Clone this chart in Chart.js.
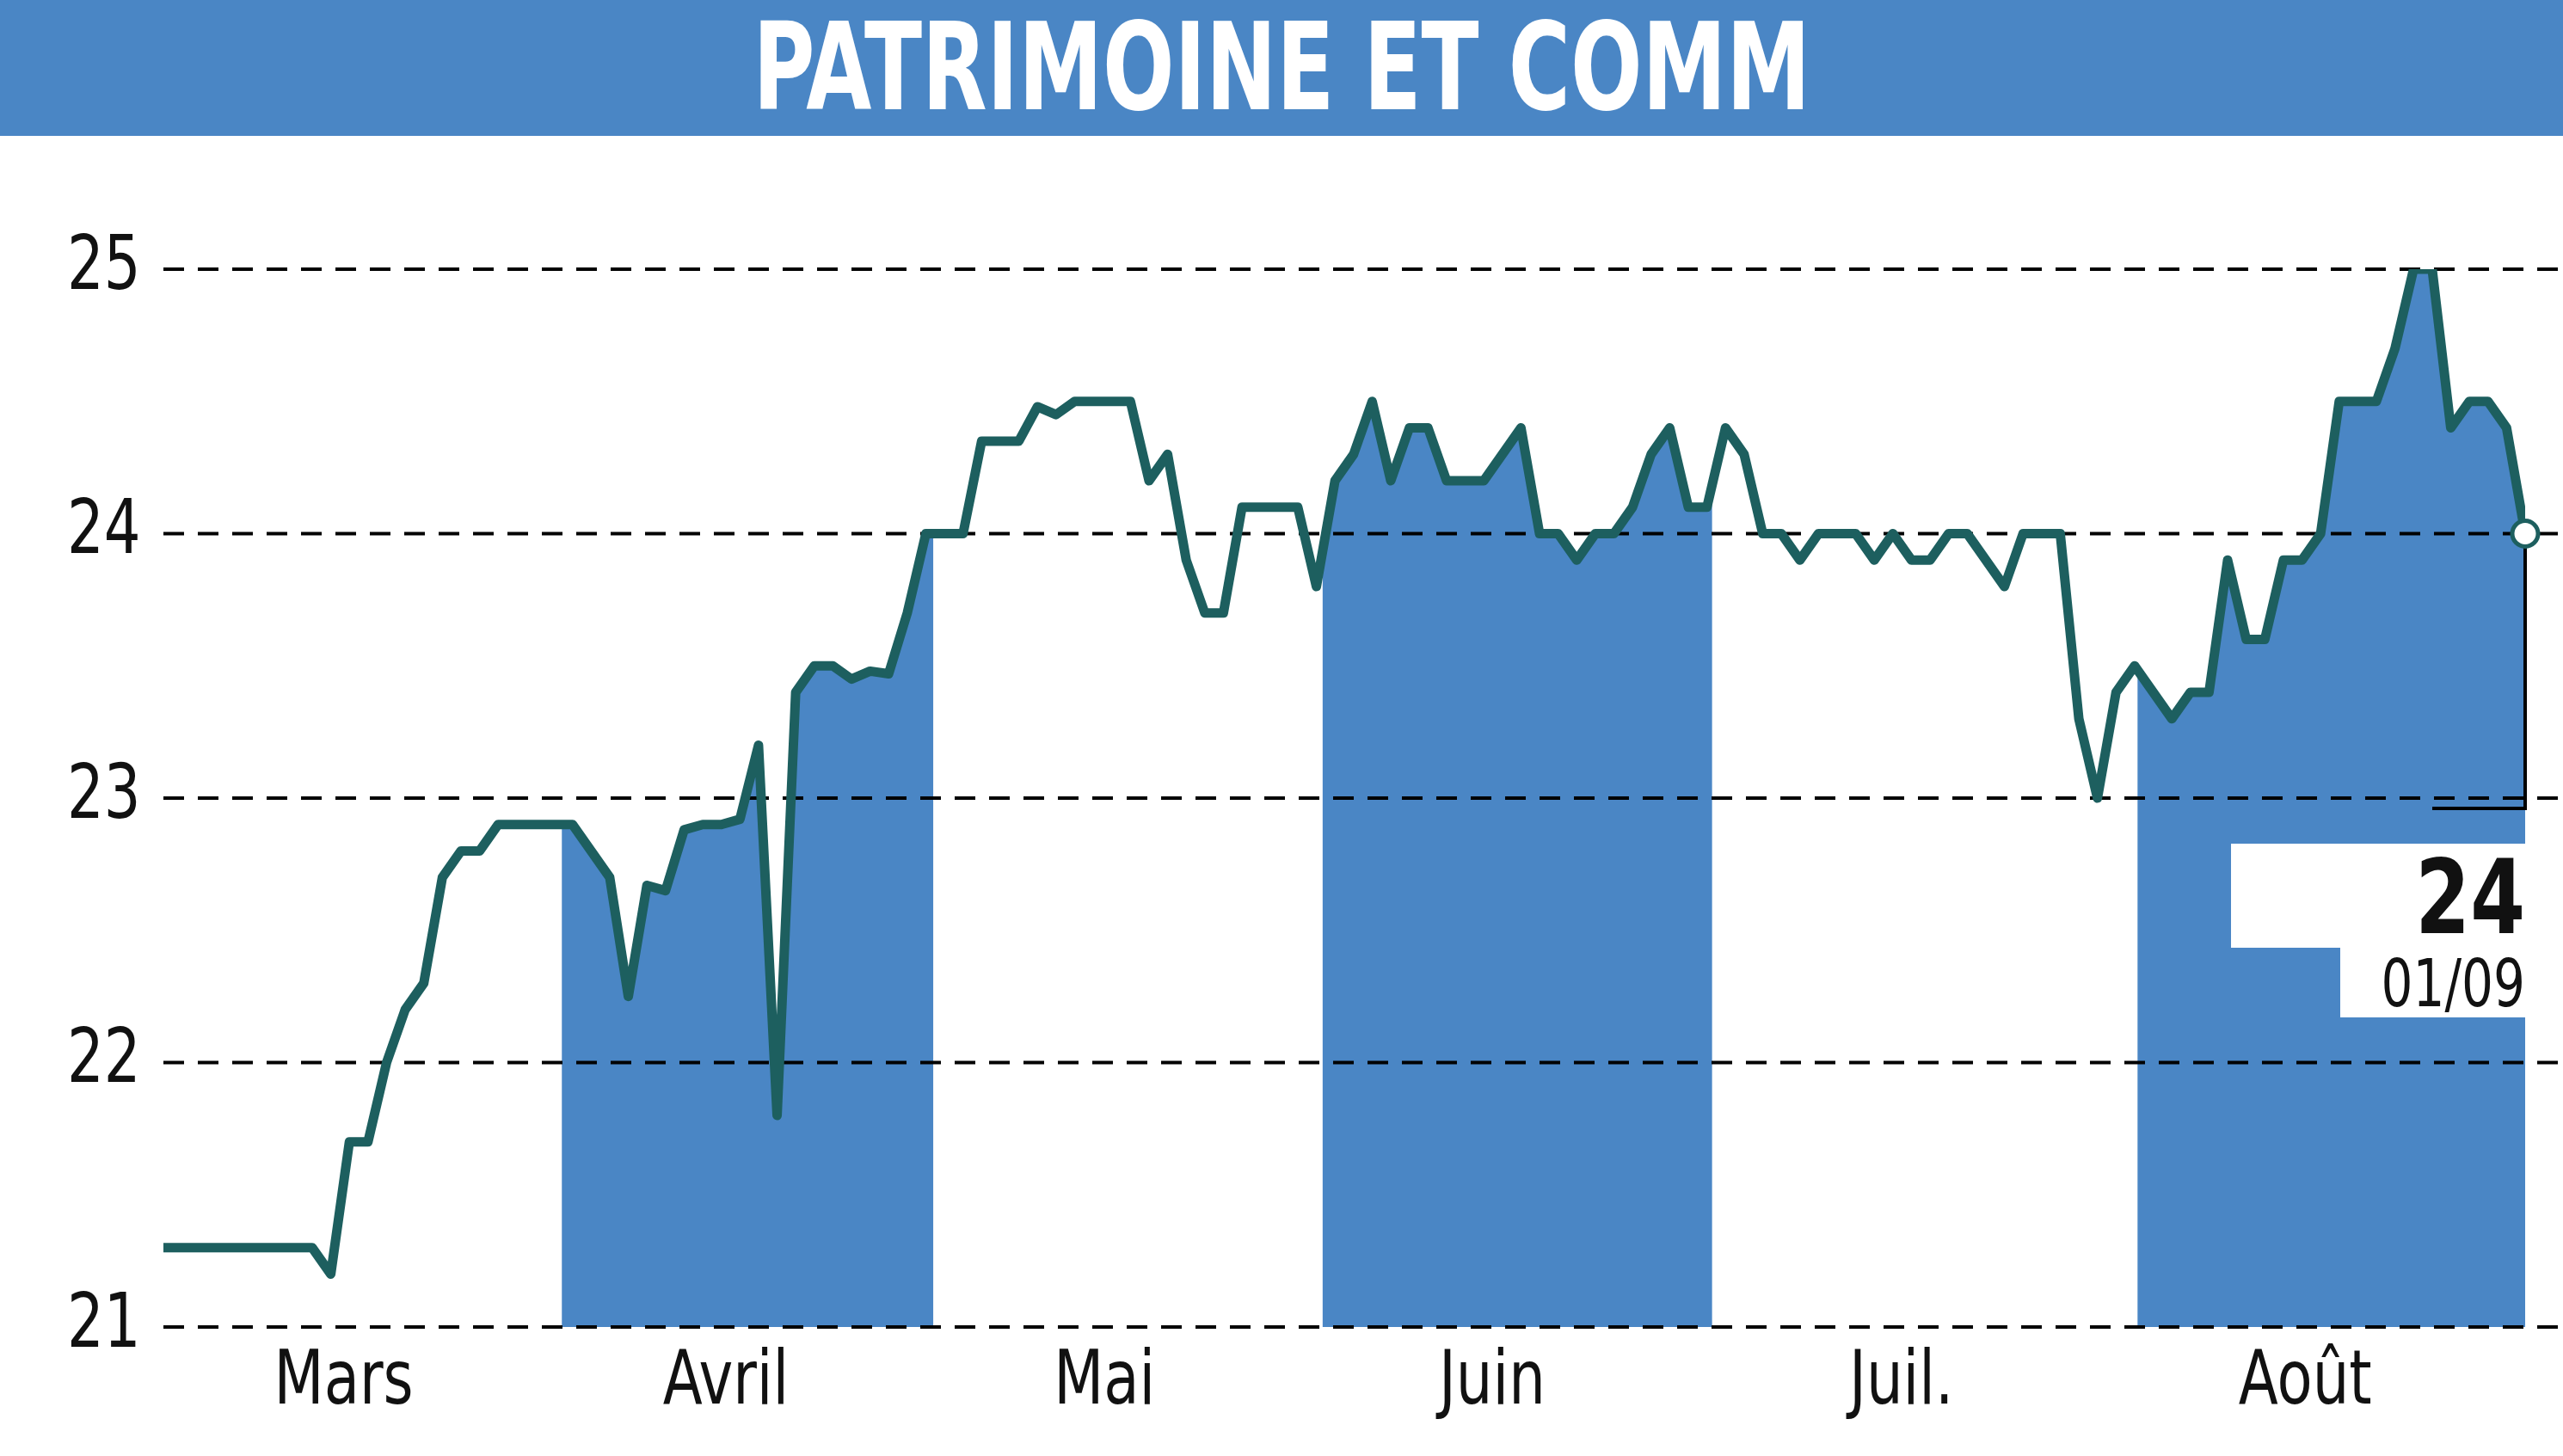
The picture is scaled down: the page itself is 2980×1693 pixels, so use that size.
<!DOCTYPE html>
<html>
<head>
<meta charset="utf-8">
<script src="https://cdn.jsdelivr.net/npm/chart.js@4/dist/chart.umd.min.js"></script>
<style>
  html, body { margin: 0; padding: 0; background: #fff; }
  #wrap { position: relative; width: 2980px; height: 1693px; }
  #title {
    position: absolute; left: 0; top: 0; width: 2980px; height: 158px;
    background: #4a86c5; color: #fff; text-align: center;
    font: bold 140px "DejaVu Sans Condensed", "Liberation Sans Narrow", sans-serif;
    line-height: 158px;
  }
  #title span { display: inline-block; transform: scaleX(0.78); }
  canvas { position: absolute; left: 0; top: 0; }
</style>
</head>
<body>
<div id="wrap">
  <canvas id="chart" width="2980" height="1693"></canvas>
  <div id="title"><span>PATRIMOINE ET COMM</span></div>
</div>
<script>
const prices = [
  21.3, 21.3, 21.3, 21.3, 21.3, 21.3, 21.3, 21.3, 21.3,
  21.2, 21.7, 21.7, 22.0, 22.2, 22.3, 22.7, 22.8, 22.8, 22.9,
  22.9, 22.9, 22.9, 22.9, 22.8, 22.7, 22.25, 22.67, 22.65, 22.88,
  22.9, 22.9, 22.92, 23.2, 21.8, 23.4, 23.5, 23.5, 23.45, 23.48,
  23.47, 23.7, 24.0, 24.0, 24.0, 24.35, 24.35, 24.35, 24.48, 24.45,
  24.5, 24.5, 24.5, 24.5, 24.2, 24.3, 23.9, 23.7, 23.7, 24.1,
  24.1, 24.1, 24.1, 23.8, 24.2, 24.3, 24.5, 24.2, 24.4, 24.4,
  24.2, 24.2, 24.2, 24.3, 24.4, 24.0, 24.0, 23.9, 24.0, 24.0,
  24.1, 24.3, 24.4, 24.1, 24.1, 24.4, 24.3, 24.0, 24.0, 23.9,
  24.0, 24.0, 24.0, 23.9, 24.0, 23.9, 23.9, 24.0, 24.0, 23.9,
  23.8, 24.0, 24.0, 24.0, 23.3, 23.0, 23.4, 23.5, 23.4, 23.3,
  23.4, 23.4, 23.9, 23.6, 23.6, 23.9, 23.9, 24.0, 24.5, 24.5,
  24.5, 24.7, 25.0, 25.0, 24.4, 24.5, 24.5, 24.4, 24.0
];
const monthLabels = ['Mars', 'Avril', 'Mai', 'Juin', 'Juil.', 'Août'];
const monthPos = [10, 31.2, 52.2, 73.7, 96.4, 118.8];
const bands = [[22.1, 42.7], [64.3, 85.9], [109.5, 131]];
const yTicks = [21, 22, 23, 24, 25];
const lastLabel = '24';
const lastDate = '01/09';

const N = prices.length - 1;
const scaleX = (v) => v * N / 131;
const points = prices.map((p, i) => ({ x: i, y: p }));

const FONT = '"DejaVu Sans Condensed", "Liberation Sans Narrow", sans-serif';

// draw condensed text by squeezing horizontally
function narrowText(ctx, text, x, y, sx) {
  ctx.save();
  ctx.translate(x, y);
  ctx.scale(sx, 1);
  ctx.fillText(text, 0, 0);
  ctx.restore();
}

const decor = {
  id: 'decor',
  beforeDatasetsDraw(c) {
    const { ctx, chartArea: a, scales: { x, y } } = c;
    ctx.save();
    ctx.fillStyle = '#4a86c5';
    bands.forEach(([b0, b1]) => {
      const x0 = x.getPixelForValue(scaleX(b0));
      const x1 = x.getPixelForValue(scaleX(b1));
      ctx.save();
      ctx.beginPath();
      ctx.rect(x0, a.top - 50, x1 - x0, a.bottom - a.top + 50);
      ctx.clip();
      ctx.beginPath();
      points.forEach((p, i) => {
        const px = x.getPixelForValue(p.x), py = y.getPixelForValue(p.y);
        if (i === 0) ctx.moveTo(px, py); else ctx.lineTo(px, py);
      });
      ctx.lineTo(x.getPixelForValue(N), y.getPixelForValue(21));
      ctx.lineTo(x.getPixelForValue(0), y.getPixelForValue(21));
      ctx.closePath();
      ctx.fill();
      ctx.restore();
    });
    ctx.strokeStyle = '#000';
    ctx.lineWidth = 4;
    ctx.setLineDash([24, 16]);
    yTicks.forEach((t) => {
      const py = y.getPixelForValue(t);
      ctx.beginPath();
      ctx.moveTo(a.left, py);
      ctx.lineTo(2980, py);
      ctx.stroke();
    });
    ctx.setLineDash([]);
    ctx.fillStyle = '#111';
    ctx.font = '88px ' + FONT;
    ctx.textAlign = 'left';
    ctx.textBaseline = 'middle';
    yTicks.forEach((t) => narrowText(ctx, String(t), 78, y.getPixelForValue(t), 0.85));
    ctx.textAlign = 'center';
    ctx.textBaseline = 'top';
    monthLabels.forEach((m, i) => narrowText(ctx, m, x.getPixelForValue(scaleX(monthPos[i])), a.bottom + 22, 0.85));
    ctx.restore();
  },
  afterDatasetsDraw(c) {
    const { ctx, scales: { x, y } } = c;
    const lx = x.getPixelForValue(N), ly = y.getPixelForValue(prices[N]);
    const y23 = y.getPixelForValue(23);
    ctx.save();
    ctx.strokeStyle = '#000';
    ctx.lineWidth = 4;
    ctx.beginPath();
    ctx.moveTo(lx, ly);
    ctx.lineTo(lx, y23 + 12);
    ctx.lineTo(lx - 108, y23 + 12);
    ctx.stroke();
    ctx.fillStyle = '#fff';
    ctx.fillRect(2594, 981, lx - 2594 + 8, 121);
    ctx.fillRect(2721, 1102, lx - 2721 + 8, 81);
    ctx.fillStyle = '#111';
    ctx.textAlign = 'right';
    ctx.textBaseline = 'alphabetic';
    ctx.font = 'bold 120px ' + FONT;
    narrowText(ctx, lastLabel, lx, 1085, 0.85);
    ctx.font = '76px ' + FONT;
    narrowText(ctx, lastDate, lx, 1170, 0.85);
    ctx.beginPath();
    ctx.arc(lx, ly, 15, 0, Math.PI * 2);
    ctx.fillStyle = '#fff';
    ctx.fill();
    ctx.strokeStyle = '#1d5f5f';
    ctx.lineWidth = 5;
    ctx.stroke();
    ctx.restore();
  },
};

new Chart(document.getElementById('chart'), {
  type: 'line',
  data: {
    datasets: [{
      data: points,
      borderColor: '#1d5f5f',
      borderWidth: 11,
      pointRadius: 0,
      tension: 0,
      fill: false,
      borderJoinStyle: 'round',
    }],
  },
  options: {
    responsive: false,
    animation: false,
    layout: { padding: { left: 190, right: 44, top: 313, bottom: 150 } },
    plugins: { legend: { display: false }, tooltip: { enabled: false } },
    scales: {
      x: { type: 'linear', min: 0, max: N, display: false },
      y: { min: 21, max: 25, display: false },
    },
  },
  plugins: [decor],
});
</script>
</body>
</html>
